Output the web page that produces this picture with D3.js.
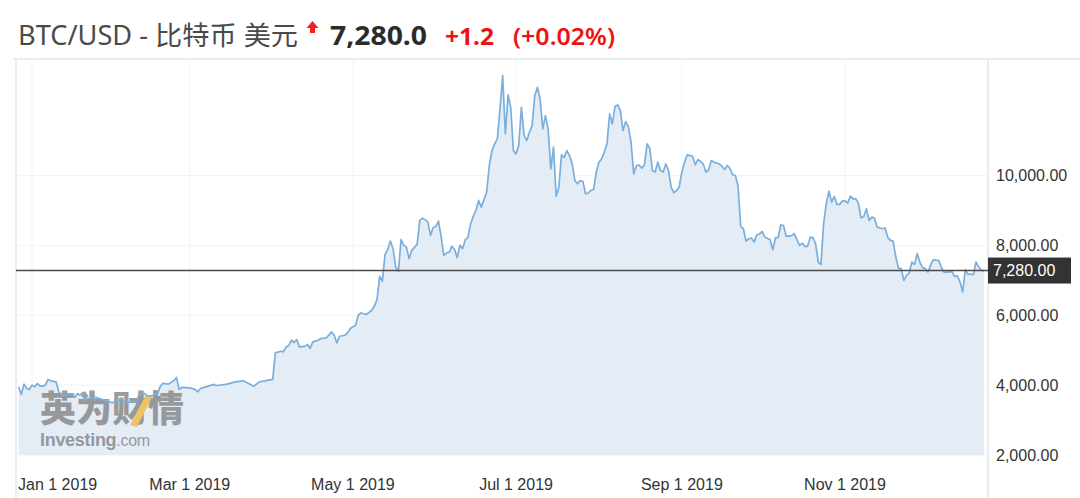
<!DOCTYPE html>
<html>
<head>
<meta charset="utf-8">
<script src="https://cdn.jsdelivr.net/npm/d3@7"></script>
<style>
  html, body { margin: 0; padding: 0; background: #fff; }
  svg { display: block; }
</style>
</head>
<body>
<svg id="chart" width="1080" height="498"></svg>
<script>
// ---- data ----
const dates = [
"2018-12-27","2018-12-28","2018-12-29","2018-12-30","2018-12-31",
"2019-01-01","2019-01-02","2019-01-03","2019-01-04","2019-01-05","2019-01-06","2019-01-07","2019-01-08","2019-01-10","2019-01-11","2019-01-12","2019-01-13","2019-01-16","2019-01-17","2019-01-18","2019-01-19","2019-01-20","2019-01-21","2019-01-23","2019-01-25","2019-01-27","2019-01-29","2019-01-31",
"2019-02-01","2019-02-03","2019-02-04","2019-02-06","2019-02-07","2019-02-09","2019-02-10","2019-02-12","2019-02-13","2019-02-15","2019-02-16","2019-02-17","2019-02-18","2019-02-19","2019-02-21","2019-02-23","2019-02-24","2019-02-25","2019-02-26",
"2019-03-01","2019-03-03","2019-03-04","2019-03-05","2019-03-07","2019-03-10","2019-03-11","2019-03-15","2019-03-18","2019-03-21","2019-03-23","2019-03-25","2019-03-27","2019-03-29",
"2019-04-01","2019-04-02","2019-04-04","2019-04-05","2019-04-06","2019-04-07","2019-04-08","2019-04-09","2019-04-10","2019-04-11","2019-04-13","2019-04-14","2019-04-15","2019-04-16","2019-04-18","2019-04-19","2019-04-21","2019-04-23","2019-04-24","2019-04-25","2019-04-26","2019-04-28","2019-04-29","2019-04-30",
"2019-05-02","2019-05-03","2019-05-04","2019-05-06","2019-05-08","2019-05-09","2019-05-10","2019-05-11","2019-05-12","2019-05-13","2019-05-14","2019-05-15","2019-05-16","2019-05-17","2019-05-18","2019-05-19","2019-05-20","2019-05-21","2019-05-22","2019-05-23","2019-05-25","2019-05-26","2019-05-27","2019-05-29","2019-05-30","2019-05-31",
"2019-06-01","2019-06-02","2019-06-03","2019-06-04","2019-06-05","2019-06-06","2019-06-07","2019-06-08","2019-06-09","2019-06-10","2019-06-11","2019-06-12","2019-06-13","2019-06-14","2019-06-15","2019-06-16","2019-06-17","2019-06-18","2019-06-20","2019-06-21","2019-06-22","2019-06-23","2019-06-24","2019-06-25","2019-06-26","2019-06-27","2019-06-28","2019-06-29","2019-06-30",
"2019-07-01","2019-07-02","2019-07-03","2019-07-04","2019-07-05","2019-07-06","2019-07-07","2019-07-08","2019-07-09","2019-07-10","2019-07-11","2019-07-12","2019-07-13","2019-07-14","2019-07-15","2019-07-16","2019-07-17","2019-07-18","2019-07-19","2019-07-20","2019-07-21","2019-07-22","2019-07-23","2019-07-24","2019-07-25","2019-07-26","2019-07-27","2019-07-28","2019-07-29","2019-07-30","2019-07-31",
"2019-08-01","2019-08-02","2019-08-03","2019-08-04","2019-08-05","2019-08-06","2019-08-07","2019-08-08","2019-08-09","2019-08-10","2019-08-11","2019-08-12","2019-08-13","2019-08-14","2019-08-15","2019-08-16","2019-08-17","2019-08-18","2019-08-19","2019-08-20","2019-08-21","2019-08-22","2019-08-23","2019-08-24","2019-08-25","2019-08-26","2019-08-27","2019-08-28","2019-08-29","2019-08-30","2019-08-31",
"2019-09-01","2019-09-02","2019-09-03","2019-09-04","2019-09-05","2019-09-06","2019-09-07","2019-09-08","2019-09-09","2019-09-10","2019-09-11","2019-09-12","2019-09-13","2019-09-14","2019-09-15","2019-09-16","2019-09-17","2019-09-18","2019-09-19","2019-09-20","2019-09-21","2019-09-22","2019-09-23","2019-09-24","2019-09-25","2019-09-26","2019-09-27","2019-09-28","2019-09-29","2019-09-30",
"2019-10-01","2019-10-02","2019-10-04","2019-10-05","2019-10-06","2019-10-07","2019-10-08","2019-10-09","2019-10-10","2019-10-12","2019-10-13","2019-10-14","2019-10-15","2019-10-16","2019-10-17","2019-10-18","2019-10-19","2019-10-20","2019-10-21","2019-10-22","2019-10-23","2019-10-24","2019-10-25","2019-10-26","2019-10-27","2019-10-28","2019-10-29","2019-10-30","2019-10-31",
"2019-11-01","2019-11-02","2019-11-03","2019-11-04","2019-11-05","2019-11-06","2019-11-07","2019-11-08","2019-11-09","2019-11-10","2019-11-11","2019-11-12","2019-11-13","2019-11-15","2019-11-16","2019-11-17","2019-11-18","2019-11-19","2019-11-20","2019-11-21","2019-11-22","2019-11-23","2019-11-24","2019-11-25","2019-11-26","2019-11-27","2019-11-28","2019-11-29","2019-11-30",
"2019-12-01","2019-12-02","2019-12-03","2019-12-04","2019-12-05","2019-12-06","2019-12-07","2019-12-08","2019-12-09","2019-12-11","2019-12-12","2019-12-13","2019-12-14","2019-12-15","2019-12-16","2019-12-17","2019-12-18","2019-12-19","2019-12-20","2019-12-21","2019-12-22","2019-12-23"
];
const prices = [
3950,3734,4028,3906,3877,
4000,3951,4048,3971,3971,4000,4163,4123,4094,3808,3734,3714,3734,3648,3762,3714,3762,3591,3620,3648,3591,3551,3494,
3523,3591,3551,3494,3523,3523,3714,3762,3700,3690,3734,3762,3971,4048,4028,4123,4220,3877,3934,
3920,3877,3808,3906,3951,4020,3990,4028,4094,4123,4048,3971,4094,4123,
4163,4923,4971,4951,5094,5133,5286,5220,5300,5094,5110,5160,5048,5237,5286,5333,5350,5523,5428,5208,5400,5428,5494,5620,
5714,6000,6066,6020,6143,6257,6448,7114,6971,7743,7877,8123,7905,7380,7257,8163,8000,7950,7620,7857,8028,8714,8780,8680,8286,8505,
8540,8695,8237,7714,7780,7810,7970,7880,7648,8000,7905,8163,8220,8620,8830,9000,9286,9094,9523,10286,10714,10905,11048,11905,12857,11190,12305,11952,10714,
10620,10857,11952,11143,11000,11238,11428,12286,12523,12190,11333,11714,11333,10191,10810,9408,9666,10590,10520,10714,10571,10333,9857,9762,9857,9830,9476,9500,9571,9600,10100,
10381,10476,10667,10905,11762,11476,11980,12020,11857,11286,11543,11400,10952,10048,10286,10300,10210,10300,10905,10780,10143,10100,10381,10143,10100,10333,10143,9666,9505,9571,9666,
10100,10381,10590,10571,10552,10305,10457,10400,10330,10100,10160,10428,10380,10360,10330,10267,10171,10286,10200,10020,10000,9700,8543,8477,8123,8191,8210,8094,8305,8320,
8400,8237,8163,7877,8220,8220,8590,8570,8257,8280,8334,8163,8000,8066,7971,7971,8237,8220,8048,7523,7457,8620,9191,9551,9237,9400,9171,9171,9266,
9280,9208,9408,9333,9333,9208,8790,8820,9048,8714,8808,8780,8523,8477,8500,8220,8143,8120,7666,7351,7334,7000,7143,7208,7523,7457,7762,7523,7363,
7340,7237,7428,7591,7580,7571,7380,7237,7237,7250,7114,7130,6951,6666,7305,7171,7180,7163,7523,7380,7286,7280
];
const yTicks = [2000, 4000, 6000, 8000, 10000];
const xTicks = ["2019-01-01","2019-03-01","2019-05-01","2019-07-01","2019-09-01","2019-11-01"];
const lastPrice = 7280;
const titleMain = "BTC/USD - 比特币 美元";
const titlePrice = "7,280.0";
const titleChange = "+1.2";
const titlePct = "(+0.02%)";

// ---- drawing ----
const parse = d3.timeParse("%Y-%m-%d");
const data = dates.map((d, i) => ({ date: parse(d), value: prices[i] }));

const svg = d3.select("#chart");
const plot = { left: 16, right: 988, top: 59, bottom: 455 };

const x = d3.scaleTime()
  .domain([parse("2019-01-01"), parse("2019-11-01")])
  .range([32, 845]);
const y = d3.scaleLinear()
  .domain([2000, 10000])
  .range([455, 175.5]);

// frame
svg.append("line").attr("x1", 13).attr("x2", 1080).attr("y1", plot.top).attr("y2", plot.top)
  .attr("stroke", "#e3e6ee").attr("stroke-width", 1.5);
svg.append("line").attr("x1", plot.left).attr("x2", plot.left).attr("y1", plot.top).attr("y2", 498)
  .attr("stroke", "#e3e6ee").attr("stroke-width", 1.5);
svg.append("line").attr("x1", plot.right).attr("x2", plot.right).attr("y1", plot.top).attr("y2", 498)
  .attr("stroke", "#e3e6ee").attr("stroke-width", 1.5);

// gridlines
svg.append("g").selectAll("line").data(yTicks).join("line")
  .attr("x1", plot.left).attr("x2", plot.right)
  .attr("y1", d => y(d)).attr("y2", d => y(d))
  .attr("stroke", "#f2f3f5").attr("stroke-width", 1);
svg.append("g").selectAll("line").data(xTicks).join("line")
  .attr("x1", d => x(parse(d))).attr("x2", d => x(parse(d)))
  .attr("y1", plot.top).attr("y2", plot.bottom)
  .attr("stroke", "#f2f3f5").attr("stroke-width", 1);

// area
const area = d3.area().x(d => x(d.date)).y0(plot.bottom).y1(d => y(d.value));
const line = d3.line().x(d => x(d.date)).y(d => y(d.value));
svg.append("path").datum(data).attr("d", area).attr("fill", "#e4ecf5");

// watermark
const wm = svg.append("g").attr("opacity", 0.75);
wm.append("text").attr("x", 40).attr("y", 422)
  .attr("font-family", "'Noto Sans CJK SC'").attr("font-weight", 900)
  .attr("font-size", 36).attr("fill", "#7d7d7d").attr("letter-spacing", 0)
  .text("英为财情");
wm.append("path").attr("d", "M146,395 L152,397 L137,427 L130,425 Z").attr("fill", "#f2b632");
wm.append("text").attr("x", 40).attr("y", 446)
  .attr("font-family", "'Liberation Sans', Arial").attr("font-weight", 700)
  .attr("font-size", 18).attr("fill", "#7d7d7d").attr("letter-spacing", -0.3)
  .text("Investing").append("tspan").attr("font-weight", 400).attr("font-size", 16).text(".com");

// line
svg.append("path").datum(data).attr("d", line)
  .attr("fill", "none").attr("stroke", "#7aafdc").attr("stroke-width", 1.7)
  .attr("stroke-linejoin", "round");

// y axis labels
const fmt = d3.format(",.2f");
svg.append("g").selectAll("text").data(yTicks).join("text")
  .attr("x", 996).attr("y", d => y(d)).attr("dy", "0.35em")
  .attr("font-family", "'Liberation Sans', Arial").attr("font-size", 16).attr("fill", "#333")
  .text(d => fmt(d));

// x axis labels
const xfmt = d3.timeFormat("%b %-d %Y");
svg.append("g").selectAll("text").data(xTicks).join("text")
  .attr("x", (d, i) => i === 0 ? 18 : x(parse(d)))
  .attr("y", 490)
  .attr("text-anchor", (d, i) => i === 0 ? "start" : "middle")
  .attr("font-family", "'Liberation Sans', Arial").attr("font-size", 16).attr("fill", "#333")
  .text(d => xfmt(parse(d)));

// last price line + tag
svg.append("line").attr("x1", plot.left).attr("x2", plot.right)
  .attr("y1", y(lastPrice)).attr("y2", y(lastPrice))
  .attr("stroke", "#4a4a4a").attr("stroke-width", 1.6);
svg.append("rect").attr("x", plot.right).attr("y", y(lastPrice) - 13).attr("width", 83).attr("height", 26)
  .attr("fill", "#333");
svg.append("text").attr("x", 993).attr("y", y(lastPrice)).attr("dy", "0.35em")
  .attr("font-family", "'Liberation Sans', Arial").attr("font-size", 16).attr("fill", "#fff")
  .text(fmt(lastPrice));

// title
svg.append("text").attr("x", 18).attr("y", 45)
  .attr("font-family", "'Noto Sans', 'Noto Sans CJK SC'").attr("font-size", 26.5).attr("fill", "#4a4a4a")
  .attr("textLength", 280).attr("lengthAdjust", "spacingAndGlyphs")
  .text(titleMain);
svg.append("path").attr("d", "M312.5,21 L318.5,28 L315,28 L315,33 L310,33 L310,28 L306.5,28 Z").attr("fill", "#e22");
svg.append("text").attr("x", 330).attr("y", 45)
  .attr("font-family", "'Noto Sans'").attr("font-weight", 700).attr("font-size", 27).attr("fill", "#2b2b2b")
  .attr("textLength", 97).attr("lengthAdjust", "spacingAndGlyphs")
  .text(titlePrice);
svg.append("text").attr("x", 445).attr("y", 45)
  .attr("font-family", "'Noto Sans'").attr("font-weight", 700).attr("font-size", 24).attr("fill", "#ee1111")
  .attr("textLength", 49).attr("lengthAdjust", "spacingAndGlyphs")
  .text(titleChange);
svg.append("text").attr("x", 513).attr("y", 45)
  .attr("font-family", "'Noto Sans'").attr("font-weight", 600).attr("font-size", 24).attr("fill", "#ee1111")
  .attr("textLength", 102).attr("lengthAdjust", "spacingAndGlyphs")
  .text(titlePct);
</script>
</body>
</html>
